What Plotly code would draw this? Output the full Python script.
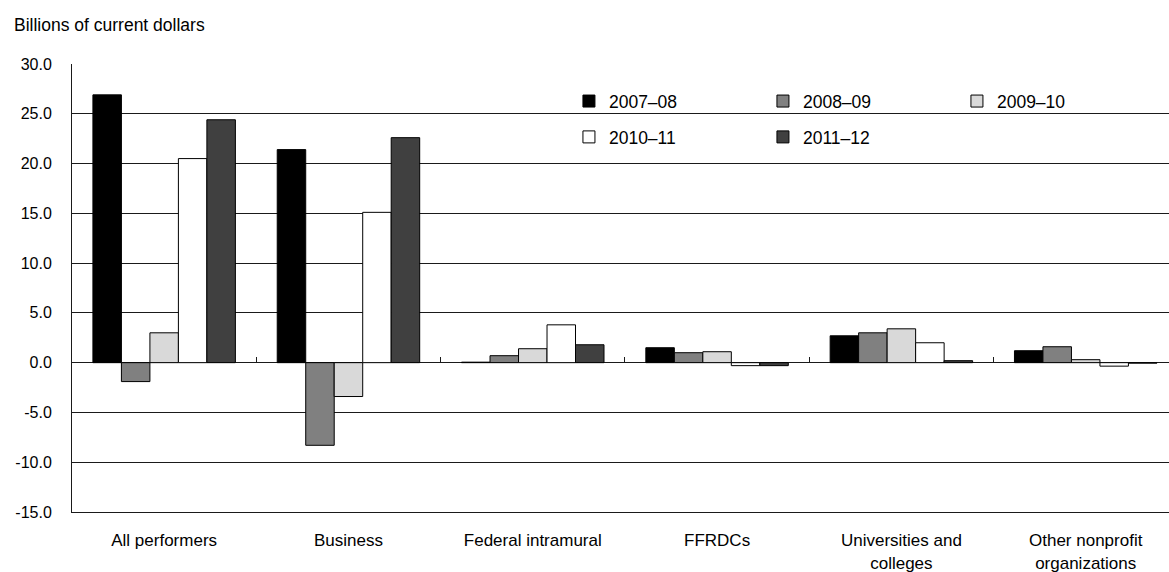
import plotly.graph_objects as go

categories = ["All performers", "Business", "Federal intramural", "FFRDCs",
              "Universities and colleges", "Other nonprofit organizations"]
tick_labels = ["All performers", "Business", "Federal intramural", "FFRDCs",
               "Universities and<br>colleges", "Other nonprofit<br>organizations"]
series_names = ["2007–08", "2008–09", "2009–10", "2010–11", "2011–12"]
v_2007_08 = [26.9, 21.4, 0.05, 1.5, 2.7, 1.2]
v_2008_09 = [-1.9, -8.3, 0.7, 1.0, 3.0, 1.6]
v_2009_10 = [3.0, -3.4, 1.4, 1.1, 3.4, 0.3]
v_2010_11 = [20.5, 15.1, 3.8, -0.3, 2.0, -0.35]
v_2011_12 = [24.4, 22.6, 1.8, -0.3, 0.2, -0.05]
values = [v_2007_08, v_2008_09, v_2009_10, v_2010_11, v_2011_12]
y_tick_values = [-15, -10, -5, 0, 5, 10, 15, 20, 25, 30]
y_tick_labels = ["-15.0", "-10.0", "-5.0", "0.0", "5.0", "10.0", "15.0", "20.0", "25.0", "30.0"]
colors = ["#000000", "#808080", "#d9d9d9", "#ffffff", "#404040"]
legends = ["legend", "legend", "legend", "legend2", "legend2"]

FONT = "Liberation Sans, Arial, sans-serif"
LINE = "#1a1a1a"

fig = go.Figure()
for name, vals, col, lg in zip(series_names, values, colors, legends):
    fig.add_trace(go.Bar(
        x=categories, y=vals, name=name, legend=lg,
        marker=dict(color=col, line=dict(color="#000000", width=1)),
    ))

fig.update_layout(
    width=1169, height=572,
    margin=dict(l=72, r=0, t=64, b=60),
    paper_bgcolor="white", plot_bgcolor="white",
    font=dict(family=FONT, size=16, color="#000000"),
    barmode="group", bargap=0.227, bargroupgap=0,
    showlegend=True,
    legend=dict(orientation="h", x=0.453, xanchor="left", y=0.917, yanchor="middle",
                entrywidth=149, entrywidthmode="pixels", bgcolor="rgba(0,0,0,0)",
                font=dict(family=FONT, size=17.5), itemclick=False),
    legend2=dict(orientation="h", x=0.453, xanchor="left", y=0.837, yanchor="middle",
                 entrywidth=149, entrywidthmode="pixels", bgcolor="rgba(0,0,0,0)",
                 font=dict(family=FONT, size=17.5), itemclick=False),
    xaxis=dict(type="category", categoryorder="array", categoryarray=categories,
               tickmode="array", tickvals=categories, ticktext=tick_labels,
               range=[-0.5, 5.452], showgrid=False, ticks="", showline=True,
               linecolor=LINE, linewidth=1, ticklabelstandoff=13,
               tickfont=dict(family=FONT, size=17)),
    xaxis2=dict(overlaying="x", anchor="free", position=1/3, range=[-0.5, 5.452],
                tickmode="array", tickvals=[0.5, 1.5, 2.5, 3.5, 4.5],
                ticks="inside", ticklen=6, tickcolor=LINE, tickwidth=1,
                showticklabels=False, showgrid=False, showline=False, zeroline=False),
    yaxis=dict(range=[-15, 30], tickmode="array", tickvals=y_tick_values,
               ticktext=y_tick_labels,
               showgrid=True, gridcolor=LINE, gridwidth=1,
               zeroline=True, zerolinecolor=LINE, zerolinewidth=1,
               showline=True, linecolor=LINE, linewidth=1, ticks="",
               ticklabelstandoff=16, tickfont=dict(family=FONT, size=16)),
    annotations=[dict(text="Billions of current dollars", xref="paper", yref="paper",
                      x=-60/1097, y=1 + 39/448, xanchor="left", yanchor="middle",
                      showarrow=False, font=dict(family=FONT, size=17.5))],
)
fig.add_trace(go.Scatter(x=[], y=[], xaxis="x2", showlegend=False, hoverinfo="skip"))

fig.write_html("out.html")
